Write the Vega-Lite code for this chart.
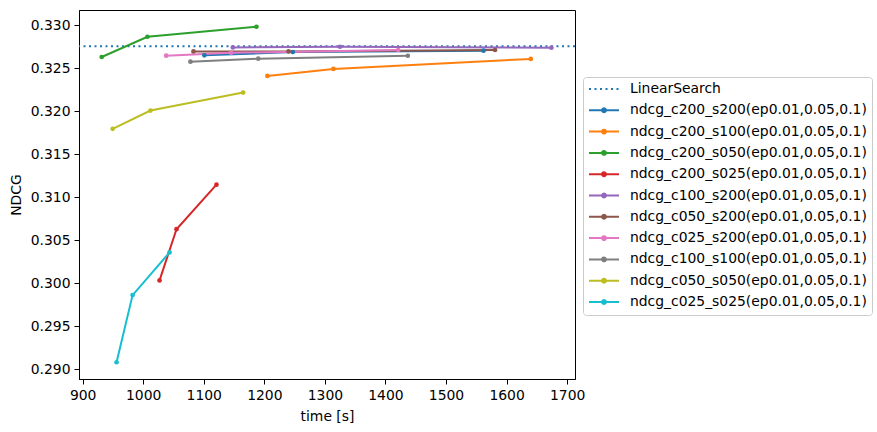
{
  "$schema": "https://vega.github.io/schema/vega-lite/v6.json",
  "autosize": {"type": "none"},
  "padding": {"left": 79, "top": 10, "right": 302, "bottom": 53},
  "width": 496,
  "height": 369,
  "background": "white",
  "config": {
    "font": "DejaVu Sans",
    "view": {"stroke": "black", "strokeWidth": 1},
    "axis": {
      "grid": false,
      "domainColor": "black",
      "tickColor": "black",
      "tickSize": 5,
      "labelPadding": 4,
      "labelColor": "black",
      "labelFont": "DejaVu Sans",
      "labelFontSize": 13.9,
      "titleFont": "DejaVu Sans",
      "titleFontSize": 13.9,
      "titleFontWeight": "normal",
      "titleColor": "black"
    },
    "legend": {
      "labelFont": "DejaVu Sans",
      "labelFontSize": 13.9,
      "labelColor": "black"
    }
  },
  "layer": [
    {
      "data": {"values": [{"series": "LinearSearch", "ndcg": 0.32755}]},
      "mark": {"type": "rule", "strokeWidth": 2, "strokeDash": [2, 3.5]},
      "encoding": {
        "y": {"field": "ndcg", "type": "quantitative"},
        "color": {"field": "series", "type": "nominal"}
      }
    },
    {
      "data": {
        "values": [
          {"series": "ndcg_c200_s200(ep0.01,0.05,0.1)", "step": 1, "time": 1101, "ndcg": 0.32648},
          {"series": "ndcg_c200_s200(ep0.01,0.05,0.1)", "step": 2, "time": 1247, "ndcg": 0.32687},
          {"series": "ndcg_c200_s200(ep0.01,0.05,0.1)", "step": 3, "time": 1562, "ndcg": 0.32702},
          {"series": "ndcg_c200_s100(ep0.01,0.05,0.1)", "step": 1, "time": 1205, "ndcg": 0.32409},
          {"series": "ndcg_c200_s100(ep0.01,0.05,0.1)", "step": 2, "time": 1314, "ndcg": 0.3249},
          {"series": "ndcg_c200_s100(ep0.01,0.05,0.1)", "step": 3, "time": 1640, "ndcg": 0.32606},
          {"series": "ndcg_c200_s050(ep0.01,0.05,0.1)", "step": 1, "time": 931.5, "ndcg": 0.32629},
          {"series": "ndcg_c200_s050(ep0.01,0.05,0.1)", "step": 2, "time": 1007, "ndcg": 0.32864},
          {"series": "ndcg_c200_s050(ep0.01,0.05,0.1)", "step": 3, "time": 1187, "ndcg": 0.3298},
          {"series": "ndcg_c200_s025(ep0.01,0.05,0.1)", "step": 1, "time": 1027, "ndcg": 0.30032},
          {"series": "ndcg_c200_s025(ep0.01,0.05,0.1)", "step": 2, "time": 1055, "ndcg": 0.30627},
          {"series": "ndcg_c200_s025(ep0.01,0.05,0.1)", "step": 3, "time": 1121, "ndcg": 0.31145},
          {"series": "ndcg_c100_s200(ep0.01,0.05,0.1)", "step": 1, "time": 1148, "ndcg": 0.3274},
          {"series": "ndcg_c100_s200(ep0.01,0.05,0.1)", "step": 2, "time": 1325, "ndcg": 0.32748},
          {"series": "ndcg_c100_s200(ep0.01,0.05,0.1)", "step": 3, "time": 1674, "ndcg": 0.32737},
          {"series": "ndcg_c050_s200(ep0.01,0.05,0.1)", "step": 1, "time": 1083, "ndcg": 0.32694},
          {"series": "ndcg_c050_s200(ep0.01,0.05,0.1)", "step": 2, "time": 1240, "ndcg": 0.32694},
          {"series": "ndcg_c050_s200(ep0.01,0.05,0.1)", "step": 3, "time": 1581, "ndcg": 0.3271},
          {"series": "ndcg_c025_s200(ep0.01,0.05,0.1)", "step": 1, "time": 1038, "ndcg": 0.32644},
          {"series": "ndcg_c025_s200(ep0.01,0.05,0.1)", "step": 2, "time": 1145, "ndcg": 0.32678},
          {"series": "ndcg_c025_s200(ep0.01,0.05,0.1)", "step": 3, "time": 1421, "ndcg": 0.3271},
          {"series": "ndcg_c100_s100(ep0.01,0.05,0.1)", "step": 1, "time": 1078, "ndcg": 0.32574},
          {"series": "ndcg_c100_s100(ep0.01,0.05,0.1)", "step": 2, "time": 1190, "ndcg": 0.32609},
          {"series": "ndcg_c100_s100(ep0.01,0.05,0.1)", "step": 3, "time": 1437, "ndcg": 0.32643},
          {"series": "ndcg_c050_s050(ep0.01,0.05,0.1)", "step": 1, "time": 949.6, "ndcg": 0.31794},
          {"series": "ndcg_c050_s050(ep0.01,0.05,0.1)", "step": 2, "time": 1012, "ndcg": 0.32006},
          {"series": "ndcg_c050_s050(ep0.01,0.05,0.1)", "step": 3, "time": 1165, "ndcg": 0.32215},
          {"series": "ndcg_c025_s025(ep0.01,0.05,0.1)", "step": 1, "time": 956, "ndcg": 0.29081},
          {"series": "ndcg_c025_s025(ep0.01,0.05,0.1)", "step": 2, "time": 982.5, "ndcg": 0.29861},
          {"series": "ndcg_c025_s025(ep0.01,0.05,0.1)", "step": 3, "time": 1043.5, "ndcg": 0.30357}
        ]
      },
      "mark": {"type": "line", "strokeWidth": 2, "point": {"filled": true, "size": 22}},
      "encoding": {
        "x": {
          "field": "time",
          "type": "quantitative",
          "title": "time [s]",
          "scale": {"domain": [894, 1713], "nice": false, "zero": false},
          "axis": {"values": [900, 1000, 1100, 1200, 1300, 1400, 1500, 1600, 1700], "format": "d", "titlePadding": 8}
        },
        "y": {
          "field": "ndcg",
          "type": "quantitative",
          "title": "NDCG",
          "scale": {"domain": [0.28886, 0.33175], "nice": false, "zero": false},
          "axis": {
            "values": [0.29, 0.295, 0.3, 0.305, 0.31, 0.315, 0.32, 0.325, 0.33],
            "format": ".3f",
            "titlePadding": 7
          }
        },
        "color": {
          "field": "series",
          "type": "nominal",
          "scale": {
            "domain": [
              "LinearSearch",
              "ndcg_c200_s200(ep0.01,0.05,0.1)",
              "ndcg_c200_s100(ep0.01,0.05,0.1)",
              "ndcg_c200_s050(ep0.01,0.05,0.1)",
              "ndcg_c200_s025(ep0.01,0.05,0.1)",
              "ndcg_c100_s200(ep0.01,0.05,0.1)",
              "ndcg_c050_s200(ep0.01,0.05,0.1)",
              "ndcg_c025_s200(ep0.01,0.05,0.1)",
              "ndcg_c100_s100(ep0.01,0.05,0.1)",
              "ndcg_c050_s050(ep0.01,0.05,0.1)",
              "ndcg_c025_s025(ep0.01,0.05,0.1)"
            ],
            "range": ["#1f77b4", "#1f77b4", "#ff7f0e", "#2ca02c", "#d62728", "#9467bd", "#8c564b", "#e377c2", "#7f7f7f", "#bcbd22", "#17becf"]
          },
          "legend": {
            "title": null,
            "orient": "none",
            "legendX": 504,
            "legendY": 67,
            "padding": 5,
            "strokeColor": "#cccccc",
            "fillColor": "white",
            "cornerRadius": 3,
            "symbolSize": 900,
            "symbolStrokeWidth": 2,
            "clipHeight": 14,
            "rowPadding": 7.3,
            "labelOffset": 10,
            "labelLimit": 400,
            "symbolType": "M-1,0L1,0",
            "symbolOpacity": 1,
            "encode": {
              "symbols": {
                "update": {
                  "shape": [
                    {"test": "datum.value === 'LinearSearch'", "value": "M-1,0L1,0"},
                    {"value": "M-1,0L-0.13,0M0.13,0L1,0M0.13,0A0.13,0.13,0,1,1,-0.13,0A0.13,0.13,0,1,1,0.13,0Z"}
                  ],
                  "fill": [
                    {"test": "datum.value === 'LinearSearch'", "value": "transparent"},
                    {"scale": "color", "field": "value"}
                  ],
                  "strokeDash": [
                    {"test": "datum.value === 'LinearSearch'", "value": [2, 3.5]},
                    {"value": [1, 0]}
                  ]
                }
              }
            }
          }
        },
        "order": {"field": "step", "type": "quantitative"}
      }
    }
  ]
}
